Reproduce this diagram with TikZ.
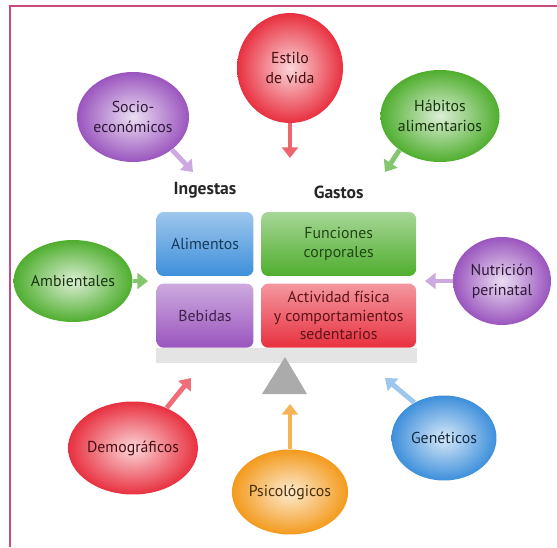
\documentclass[tikz,border=0pt]{standalone}
\usepackage{fontspec}
\setmainfont{PT Sans}
\usepackage{tikz}
\usetikzlibrary{positioning,arrows.meta,shapes.geometric}
\usepackage{xcolor}
\definecolor{rimpink}{HTML}{C94A80}
\definecolor{fred}{HTML}{E8303F}
\definecolor{fgreen}{HTML}{4FAE2E}
\definecolor{fpurple}{HTML}{9A55BE}
\definecolor{fblue}{HTML}{3D8FDB}
\definecolor{forange}{HTML}{F39A1C}
\definecolor{barg}{HTML}{E4E4E4}
\definecolor{tri}{HTML}{ABABAB}

\begin{document}
\begin{tikzpicture}[x=0.02cm,y=-0.02cm,>={Triangle[length=6pt,width=9pt]},node distance=0.14cm,
  blob/.style={ellipse,inner sep=0pt,align=center,font=\fontsize{9}{11.5}\selectfont,
    inner color=#1!20,outer color=#1,text=#1!30!black},
  box/.style 2 args={rectangle,rounded corners=4pt,align=center,minimum width=#2,minimum height=1.28cm,
    font=\fontsize{9}{10.5}\selectfont,top color=#1!50,bottom color=#1,text=#1!40!black},
  head/.style={font=\bfseries\fontsize{10}{12}\selectfont,text=black!85},
  push/.style={->,line width=2.8pt,draw=#1}]
\path[use as bounding box] (0,0) rectangle (557,547);
\draw[rimpink,line width=1.2pt] (10,547) -- (10,6) -- (557,6);

% balanza
\node[box={fblue}{1.94cm}] (alim) at (205,244) {Alimentos};
\node[box={fgreen}{3.1cm},right=of alim] (func) {Funciones\\corporales};
\node[box={fpurple}{1.94cm},below=of alim] (beb) {Bebidas};
\node[box={fred}{3.1cm},below=of func] (act) {Actividad física\\y comportamientos\\sedentarios};
\node[head,above=0.14cm of alim] (ing) {Ingestas};
\node[head,above=0.14cm of func] (gas) {Gastos};
\fill[barg] (beb.south west) rectangle ([yshift=-0.3cm]act.south east);
\fill[tri] (285,357) -- (307,394) -- (262,394) -- cycle;

% factores
\node[blob=fred,minimum width=2.12cm,minimum height=2.2cm] (estilo) at (290,68) {Estilo\\de vida};
\node[blob=fpurple,minimum width=2.08cm,minimum height=1.8cm] (socio) at (133,117) {Socio-\\económicos};
\node[blob=fgreen,minimum width=2.12cm,minimum height=1.84cm] (habit) at (440,116) {Hábitos\\alimentarios};
\node[blob=fgreen,minimum width=2.14cm,minimum height=1.64cm] (amb) at (73,281) {Ambientales};
\node[blob=fpurple,minimum width=1.96cm,minimum height=1.76cm] (nutri) at (502,281) {Nutrición\\perinatal};
\node[blob=fred,minimum width=1.94cm,minimum height=1.86cm] (demo) at (133,448) {Demográficos};
\node[blob=forange,minimum width=2.08cm,minimum height=1.7cm] (psico) at (290,492) {Psicológicos};
\node[blob=fblue,minimum width=2.1cm,minimum height=1.7cm] (genet) at (444,438) {Genéticos};

\coordinate (sociotip) at (193,172);
\coordinate (estilotip) at (290,158);
\coordinate (habittip) at (385,172);
\coordinate (ambtip) at (148,281);
\coordinate (nutritip) at (425,281);
\coordinate (demotip) at (191,378);
\coordinate (psicotip) at (290,404);
\coordinate (genettip) at (385,378);

\draw[push=fpurple!50] (socio.-40) -- (sociotip);
\draw[push=fred!75] (estilo.south) -- (estilotip);
\draw[push=fgreen!70] (habit.-140) -- (habittip);
\draw[push=fgreen!70] (amb.east) -- (ambtip);
\draw[push=fpurple!50] (nutri.west) -- (nutritip);
\draw[push=fred!70] (demo.50) -- (demotip);
\draw[push=forange!75] (psico.north) -- (psicotip);
\draw[push=fblue!50] (genet.130) -- (genettip);
\end{tikzpicture}
\end{document}
